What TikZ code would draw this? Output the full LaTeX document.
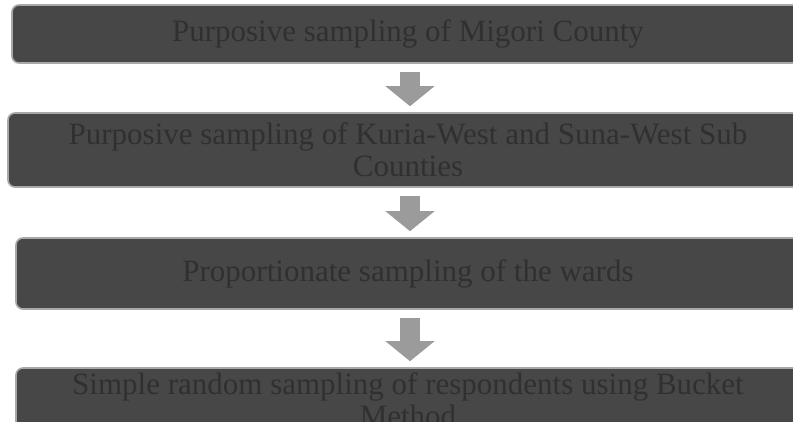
\documentclass[tikz,border=0pt]{standalone}
\usepackage{fontspec}
\setmainfont{Liberation Serif}
\usetikzlibrary{arrows.meta}

\definecolor{boxgray}{HTML}{474747}
\definecolor{edgegray}{HTML}{A8A8A8}
\definecolor{textgray}{HTML}{303030}
\definecolor{arrowgray}{HTML}{9B9B9B}

\begin{document}
\begin{tikzpicture}[x=1pt,y=-1pt,
    stagebox/.style={draw=edgegray,line width=1.6pt,fill=boxgray,rounded corners=7pt,
        text=textgray,align=center,inner sep=0pt,
        font=\fontsize{31}{32}\selectfont},
    flowarrow/.style={arrowgray,line width=20pt,
        -{Triangle[width=48pt,length=20pt]},shorten <=8pt,shorten >=6pt}]
    % Frame
    \useasboundingbox (0,0) rectangle (793,421);
    \fill[white] (0,0) rectangle (793,421);
    \clip (0,0) rectangle (793,421);

    % Boxes
    \node[stagebox,minimum width=792pt,minimum height=58pt] (b1) at (408,34)
        {Purposive sampling of Migori\ County};
    \node[stagebox,minimum width=800pt,minimum height=74pt] (b2) at (408,150)
        {Purposive sampling of Kuria-West and Suna-West Sub\\Counties};
    \node[stagebox,minimum width=784pt,minimum height=64pt] (b4) at (408,400)
        {Simple random sampling of respondents using Bucket\\Method};
    \node[stagebox,minimum width=784pt,minimum height=71pt] (b3) at (408,273.5)
        {Proportionate sampling of the wards};

    % Arrows
    \draw[flowarrow] ([xshift=2pt]b1.south) -- ([xshift=2pt]b2.north);
    \draw[flowarrow] ([xshift=2pt]b2.south) -- ([xshift=2pt]b3.north);
    \draw[flowarrow] ([xshift=2pt]b3.south) -- ([xshift=2pt]b4.north);
\end{tikzpicture}
\end{document}
